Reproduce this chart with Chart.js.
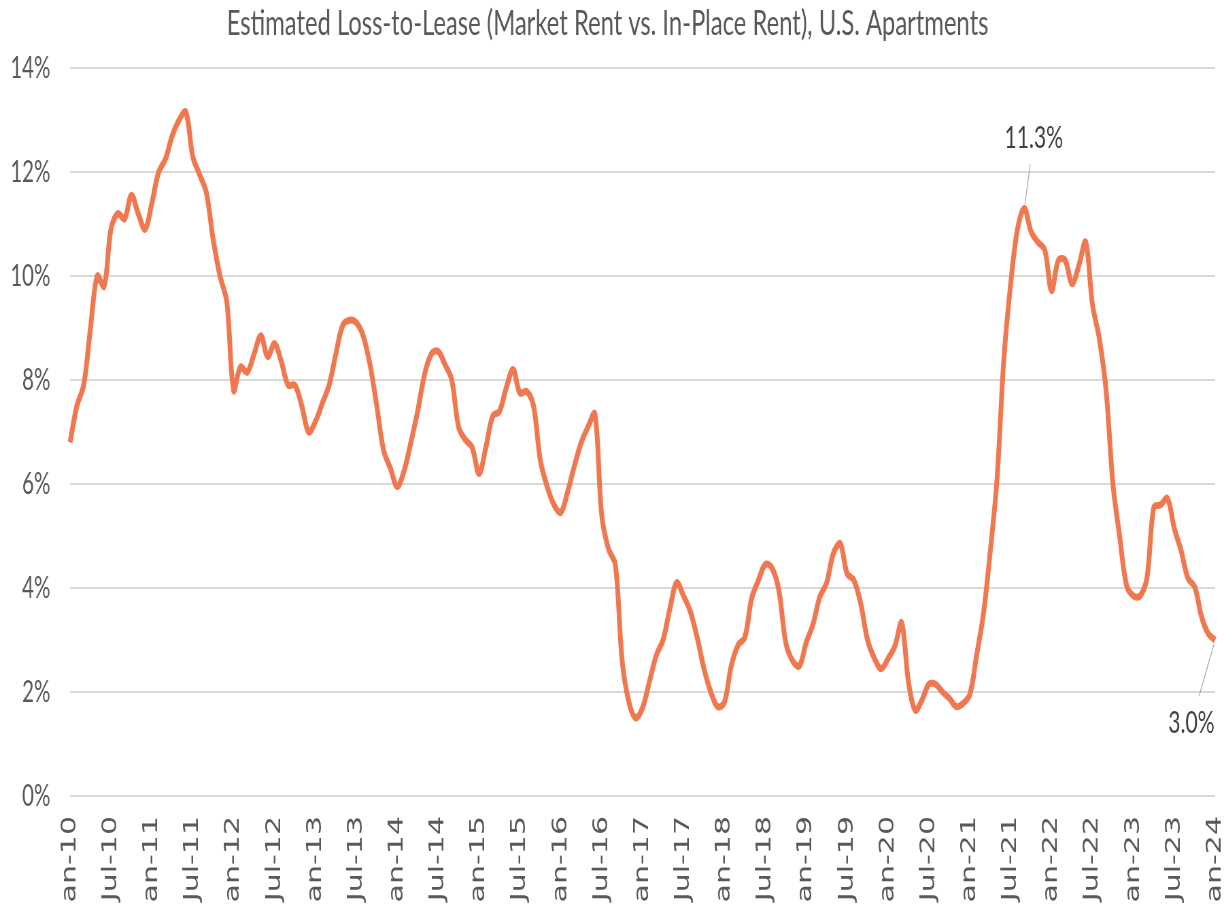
<!DOCTYPE html>
<html>
<head>
<meta charset="utf-8">
<script src="https://cdn.jsdelivr.net/npm/chart.js@4.4.1/dist/chart.umd.min.js"></script>
<style>
    html, body { margin: 0; padding: 0; background: #ffffff; overflow: hidden; }
    /* the reference is squeezed sideways, so draw wide and squeeze the canvas */
    #lossToLeaseChart { position: absolute; left: 0; top: 0; transform: scaleX(0.68); transform-origin: 0 0; }
</style>
</head>
<body>
<canvas id="lossToLeaseChart" width="1805" height="904"></canvas>
<script>
// Monthly estimated loss-to-lease (%), Jan-10 .. Jan-24
const lossToLease = [
    6.8, 7.5, 7.9, 9.0, 10.0, 9.8, 10.9, 11.2, 11.1, 11.55, 11.2, 10.9,      // 2010
    11.4, 12.0, 12.25, 12.7, 13.0, 13.15, 12.3, 11.95, 11.6, 10.7, 10.0, 9.5, // 2011
    7.8, 8.25, 8.15, 8.5, 8.85, 8.45, 8.7, 8.35, 7.9, 7.9, 7.5, 7.0,         // 2012
    7.2, 7.55, 7.9, 8.5, 9.05, 9.15, 9.1, 8.85, 8.3, 7.5, 6.65, 6.3,         // 2013
    5.95, 6.25, 6.8, 7.4, 8.1, 8.5, 8.55, 8.3, 8.0, 7.1, 6.85, 6.7,          // 2014
    6.2, 6.7, 7.3, 7.4, 7.85, 8.2, 7.75, 7.78, 7.5, 6.45, 5.95, 5.6,         // 2015
    5.45, 5.85, 6.35, 6.8, 7.1, 7.35, 5.4, 4.75, 4.45, 2.6, 1.8, 1.5,        // 2016
    1.7, 2.2, 2.7, 3.0, 3.6, 4.1, 3.85, 3.55, 3.05, 2.45, 2.0, 1.72,         // 2017
    1.8, 2.5, 2.9, 3.05, 3.8, 4.15, 4.45, 4.38, 3.95, 2.95, 2.6, 2.5,        // 2018
    2.95, 3.3, 3.83, 4.1, 4.67, 4.85, 4.28, 4.15, 3.7, 3.0, 2.65, 2.45,      // 2019
    2.64, 2.88, 3.33, 2.2, 1.65, 1.85, 2.15, 2.15, 2.0, 1.88, 1.72, 1.78,    // 2020
    1.95, 2.7, 3.5, 4.7, 6.1, 8.4, 9.85, 10.9, 11.3, 10.85, 10.65, 10.5,     // 2021
    9.72, 10.3, 10.3, 9.85, 10.2, 10.65, 9.45, 8.8, 7.8, 6.0, 4.98, 4.05,    // 2022
    3.85, 3.85, 4.2, 5.55, 5.6, 5.72, 5.15, 4.72, 4.19, 4.02, 3.45, 3.12,    // 2023
    3.0                                                                       // 2024
];

const monthNames = ['Jan', 'Feb', 'Mar', 'Apr', 'May', 'Jun', 'Jul', 'Aug', 'Sep', 'Oct', 'Nov', 'Dec'];
const firstYear = 10;

// month labels, e.g. Jan-10
const labels = lossToLease.map((v, i) => monthNames[i % 12] + '-' + (firstYear + Math.floor(i / 12)));

// y ticks: 0% .. 14%
const yTicks = [0, 2, 4, 6, 8, 10, 12, 14];

// points that get a value callout
const callouts = [
    { index: 140, dx: 14, dy: -70, lineFrom: -4, lineTo: -44 },
    { index: 168, dx: -35, dy: 83, lineFrom: 4, lineTo: 56 }
];

const textGrey = '#595959';

// draws the callout labels with their leader lines
const calloutPlugin = {
    id: 'callouts',
    afterDatasetsDraw(chart) {
        const ctx = chart.ctx;
        const xs = chart.scales.x;
        const ys = chart.scales.y;
        ctx.save();
        callouts.forEach(c => {
            const value = lossToLease[c.index];
            const px = xs.getPixelForValue(c.index);
            const py = ys.getPixelForValue(value);
            const tx = px + c.dx;
            const ty = py + c.dy;
            // leader line runs along the point -> text direction
            const k1 = c.lineFrom / c.dy, k2 = c.lineTo / c.dy;
            ctx.strokeStyle = '#a6a6a6';
            ctx.lineWidth = 1.2;
            ctx.beginPath();
            ctx.moveTo(px + c.dx * k1, py + c.dy * k1);
            ctx.lineTo(px + c.dx * k2, py + c.dy * k2);
            ctx.stroke();
            ctx.fillStyle = '#404040';
            ctx.font = '31px Lato';
            ctx.textAlign = 'center';
            ctx.textBaseline = 'middle';
            ctx.fillText(value.toFixed(1) + '%', tx, ty);
        });
        ctx.restore();
    }
};

const ctx = document.getElementById('lossToLeaseChart').getContext('2d');
new Chart(ctx, {
    type: 'line',
    data: {
        labels: labels,
        datasets: [{
            label: 'Loss-to-Lease',
            data: lossToLease,
            borderColor: '#F07850',
            borderWidth: 7,
            pointRadius: 0,
            tension: 0.35,
            fill: false
        }]
    },
    options: {
        responsive: false,
        animation: false,
        devicePixelRatio: 1,
        layout: { padding: { left: 0, right: 18, top: 0, bottom: 0 } },
        plugins: {
            legend: { display: false },
            tooltip: { enabled: false },
            title: {
                display: true,
                text: 'Estimated Loss-to-Lease (Market Rent vs. In-Place Rent), U.S. Apartments',
                color: textGrey,
                font: { family: 'Lato', size: 35, weight: 'normal' },
                padding: { top: 3, bottom: 23 }
            }
        },
        scales: {
            x: {
                grid: { display: false },
                border: { display: false },
                ticks: {
                    autoSkip: false,
                    minRotation: 90,
                    maxRotation: 90,
                    padding: 12,
                    color: textGrey,
                    font: { family: 'DejaVu Sans', size: 30 },
                    callback: function (val, index) {
                        return index % 6 === 0 ? labels[index] : null;
                    }
                },
                afterFit: function (scale) {
                    scale.height = 108;
                    scale.paddingLeft = 0;
                    scale.paddingRight = 0;
                }
            },
            y: {
                min: 0,
                max: 14,
                afterBuildTicks: function (scale) {
                    scale.ticks = yTicks.map(v => ({ value: v }));
                },
                grid: { color: '#d9d9d9', lineWidth: 2, drawTicks: false },
                border: { display: false },
                ticks: {
                    padding: 29,
                    color: textGrey,
                    font: { family: 'Lato', size: 30 },
                    callback: function (value) { return value + '%'; }
                },
                afterFit: function (scale) { scale.width = 103; }
            }
        }
    },
    plugins: [calloutPlugin]
});
</script>
</body>
</html>
